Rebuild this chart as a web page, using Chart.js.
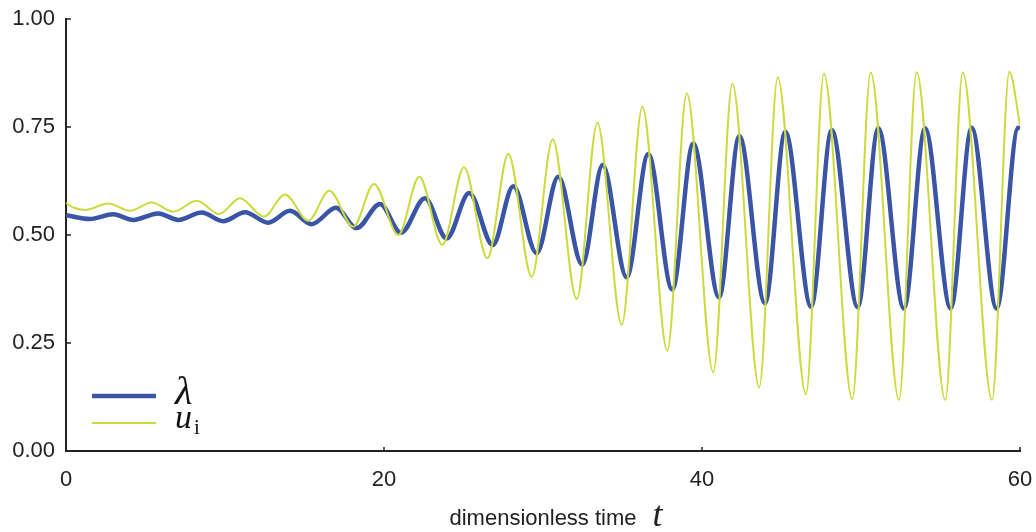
<!DOCTYPE html>
<html>
<head>
<meta charset="utf-8">
<script src="https://cdn.jsdelivr.net/npm/chart.js@4/dist/chart.umd.min.js"></script>
<style>
  html, body { margin: 0; padding: 0; background: #fff; }
  #wrap { width: 1036px; height: 532px; }
</style>
</head>
<body>
<div id="wrap"><canvas id="c" width="1036" height="532"></canvas></div>
<script>
// ---- data (extrema of each curve) ----
const lambdaT = [0, 1.51, 2.97, 4.23, 5.80, 7.06, 8.53, 9.89, 11.26, 12.72, 14.09, 15.45, 16.98, 18.28, 19.75, 21.07, 22.58, 23.94, 25.36, 26.84, 28.13, 29.60, 30.96, 32.47, 33.75, 35.26, 36.62, 38.13, 39.45, 41.07, 42.35, 43.96, 45.24, 46.86, 48.16, 49.79, 51.09, 52.70, 54.03, 55.64, 56.96, 58.53, 59.89, 60];
const lambdaV = [0.546, 0.537, 0.548, 0.535, 0.550, 0.535, 0.552, 0.532, 0.5525, 0.5285, 0.556, 0.525, 0.563, 0.516, 0.572, 0.505, 0.585, 0.492, 0.597, 0.477, 0.613, 0.458, 0.635, 0.431, 0.662, 0.402, 0.6875, 0.374, 0.712, 0.356, 0.729, 0.342, 0.739, 0.334, 0.743, 0.333, 0.747, 0.330, 0.747, 0.330, 0.748, 0.330, 0.748, 0.746];

const uT = [0, 0.5, 1.19, 2.66, 4.03, 5.39, 6.75, 8.22, 9.64, 10.94, 12.45, 13.77, 15.24, 16.56, 18.07, 19.37, 20.90, 22.22, 23.67, 25.03, 26.50, 27.82, 29.29, 30.61, 32.12, 33.42, 34.95, 36.25, 37.82, 39.04, 40.71, 41.91, 43.60, 44.76, 46.54, 47.67, 49.45, 50.61, 52.39, 53.50, 55.30, 56.40, 58.24, 59.33, 60];
const uV = [0.574, 0.563, 0.558, 0.573, 0.556, 0.575, 0.554, 0.579, 0.5486, 0.585, 0.5424, 0.594, 0.533, 0.6025, 0.519, 0.618, 0.500, 0.635, 0.477, 0.657, 0.446, 0.6875, 0.403, 0.7215, 0.352, 0.760, 0.292, 0.797, 0.232, 0.828, 0.182, 0.850, 0.147, 0.865, 0.131, 0.873, 0.120, 0.876, 0.118, 0.877, 0.118, 0.877, 0.118, 0.878, 0.755];

const xTicks = [0, 20, 40, 60];
const yTicks = [0, 0.25, 0.5, 0.75, 1.0];
const xTitle = 'dimensionless time';
const xTitleVar = 't';
const legendNames = ['λ', 'u', 'i']; // λ, u with subscript i

const BLUE = '#3a55a6';
const YELLOW = '#cbdb3e';
const AXIS = '#222222';
const SANS = '"Liberation Sans", Arial, sans-serif';
const SERIF = '"Liberation Serif", "DejaVu Serif", serif';

function pts(ts, vs) { return ts.map((t, i) => ({ x: t, y: vs[i] })); }

const decor = {
  id: 'decor',
  afterDraw(chart) {
    const ctx = chart.ctx;
    const xs = chart.scales.x, ys = chart.scales.y;
    const a = chart.chartArea;
    ctx.save();
    // inner tick marks
    ctx.strokeStyle = AXIS;
    ctx.lineWidth = 1.5;
    xTicks.forEach(v => {
      const px = xs.getPixelForValue(v);
      ctx.beginPath(); ctx.moveTo(px, a.bottom); ctx.lineTo(px, a.bottom - 4); ctx.stroke();
    });
    yTicks.forEach(v => {
      const py = ys.getPixelForValue(v);
      ctx.beginPath(); ctx.moveTo(a.left, py); ctx.lineTo(a.left + 5, py); ctx.stroke();
    });
    // x axis title
    const cx = (a.left + a.right) / 2;
    ctx.fillStyle = AXIS;
    ctx.font = '22px ' + SANS;
    ctx.textAlign = 'center';
    ctx.textBaseline = 'alphabetic';
    ctx.fillText(xTitle, cx, 525);
    const w = ctx.measureText(xTitle).width;
    ctx.font = 'italic 36px ' + SERIF;
    ctx.textAlign = 'left';
    ctx.fillText(xTitleVar, cx + w / 2 + 16, 526);
    // legend
    ctx.lineCap = 'butt';
    ctx.strokeStyle = BLUE; ctx.lineWidth = 4.5;
    ctx.beginPath(); ctx.moveTo(92, 396); ctx.lineTo(156, 396); ctx.stroke();
    ctx.strokeStyle = YELLOW; ctx.lineWidth = 2;
    ctx.beginPath(); ctx.moveTo(92, 423); ctx.lineTo(156, 423); ctx.stroke();
    ctx.fillStyle = '#111';
    ctx.font = 'italic 40px ' + SERIF;
    ctx.fillText(legendNames[0], 175, 404);
    ctx.font = 'italic 34px ' + SERIF;
    ctx.fillText(legendNames[1], 175, 428);
    const uw = ctx.measureText(legendNames[1]).width;
    ctx.font = '21px ' + SERIF;
    ctx.fillText(legendNames[2], 175 + uw + 2, 434);
    ctx.restore();
  }
};

new Chart(document.getElementById('c'), {
  type: 'line',
  data: {
    datasets: [
      {
        label: 'λ',
        data: pts(lambdaT, lambdaV),
        borderColor: BLUE,
        borderWidth: 4.5,
        pointRadius: 0,
        cubicInterpolationMode: 'monotone',
        order: 1
      },
      {
        label: 'u_i',
        data: pts(uT, uV),
        borderColor: YELLOW,
        borderWidth: 2,
        pointRadius: 0,
        cubicInterpolationMode: 'monotone',
        order: 0
      }
    ]
  },
  options: {
    responsive: false,
    animation: false,
    events: [],
    layout: { padding: { top: 19, right: 16, left: 0, bottom: 0 } },
    plugins: { legend: { display: false }, tooltip: { enabled: false } },
    scales: {
      x: {
        type: 'linear', min: 0, max: 60,
        afterBuildTicks(s) { s.ticks = xTicks.map(v => ({ value: v })); },
        afterFit(s) { s.height = 81; s.paddingLeft = 0; s.paddingRight = 0; },
        grid: { display: false, drawTicks: false },
        border: { display: true, color: AXIS, width: 2 },
        ticks: { padding: 16, color: AXIS, font: { family: SANS, size: 22 }, callback: v => String(v), maxRotation: 0 }
      },
      y: {
        type: 'linear', min: 0, max: 1,
        afterBuildTicks(s) { s.ticks = yTicks.map(v => ({ value: v })); },
        afterFit(s) { s.width = 66; s.paddingTop = 0; s.paddingBottom = 0; },
        grid: { display: false, drawTicks: false },
        border: { display: true, color: AXIS, width: 2 },
        ticks: { padding: 11, color: AXIS, font: { family: SANS, size: 22 }, callback: v => Number(v).toFixed(2) }
      }
    }
  },
  plugins: [decor]
});
</script>
</body>
</html>
